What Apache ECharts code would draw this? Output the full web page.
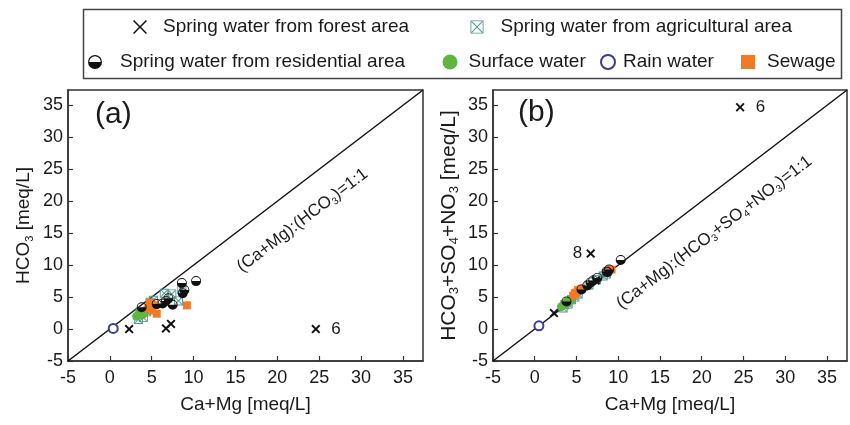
<!DOCTYPE html>
<html>
<head>
<meta charset="utf-8">
<script src="https://cdn.jsdelivr.net/npm/echarts@6/dist/echarts.min.js"></script>
<style>html,body{margin:0;padding:0;background:#fff}#c{width:850px;height:425px}</style>
</head>
<body>
<div id="c"></div>
<script>
// ---------- data ----------
const AX_MIN = -5, AX_MAX = 37.4, AX_STEP = 5;
const oneToOne = [[-5, -5], [37.4, 37.4]];

// Panel (a): x = Ca+Mg, y = HCO3
const forestA = [[2.3, 0.0], [6.7, 0.1], [7.3, 0.8], [24.6, 0.0]];
const forestLabelsA = ['', '', '', '6'];
const agriA = [[7.4, 5.5], [6.5, 5.6], [8.2, 4.4], [5.2, 4.5], [4.0, 1.8], [3.4, 1.5], [4.4, 2.7], [3.6, 2.6], [8.6, 6.2], [4.8, 4.2]];
const resA = [[8.6, 7.2], [10.3, 7.5], [8.9, 6.1], [8.7, 5.6], [7.0, 4.8], [6.3, 4.0], [7.5, 3.8], [6.7, 4.4], [5.6, 3.9], [3.8, 3.4]];
const surfA = [[3.6, 2.6], [3.8, 2.2], [3.2, 2.0], [4.4, 3.0], [4.0, 2.4]];
const rainA = [[0.4, 0.1]];
const sewA = [[9.2, 3.7], [5.2, 3.7], [5.0, 2.9], [5.6, 2.4], [4.8, 4.1], [4.6, 3.3], [4.9, 3.6]];

// Panel (b): x = Ca+Mg, y = HCO3+SO4+NO3
const forestB = [[2.3, 2.5], [6.7, 11.8], [7.3, 7.6], [24.6, 34.7]];
const forestLabelsB = ['', '8', '', '6'];
const agriB = [[7.4, 7.7], [6.5, 6.9], [8.2, 8.3], [5.2, 5.5], [4.0, 3.9], [3.4, 3.3], [4.4, 4.6], [3.6, 3.8], [8.6, 8.6], [4.8, 5.0]];
const resB = [[8.6, 9.0], [10.3, 10.8], [8.9, 9.3], [8.7, 8.9], [7.0, 7.6], [6.3, 6.8], [7.5, 8.0], [6.7, 7.3], [5.6, 6.2], [3.8, 4.3]];
const surfB = [[3.6, 3.9], [3.8, 4.2], [3.2, 3.5], [4.4, 4.7], [4.0, 4.1]];
const rainB = [[0.5, 0.5]];
const sewB = [[9.2, 9.3], [5.2, 6.1], [5.0, 5.7], [5.6, 6.3], [4.8, 5.6], [4.6, 5.2], [8.8, 9.0]];

// annotation anchors (data coordinates)
const noteA = [[23, 17]];
const noteB = [[21.5, 15.1]];

const NAMES = {
  forest: 'Spring water from forest area',
  agri: 'Spring water from agricultural area',
  res: 'Spring water from residential area',
  surf: 'Surface water',
  rain: 'Rain water',
  sew: 'Sewage'
};

// ---------- styling ----------
const FONT = '"Liberation Sans", Arial, Helvetica, sans-serif';
const INK = '#1a1a1a';
const SYM_X = 'path://M0,3 L3,0 L10,7 L17,0 L20,3 L13,10 L20,17 L17,20 L10,13 L3,20 L0,17 L7,10 Z';
const SYM_X_THIN = 'path://M0,1.5 L1.5,0 L10,8.5 L18.5,0 L20,1.5 L11.5,10 L20,18.5 L18.5,20 L10,11.5 L1.5,20 L0,18.5 L8.5,10 Z';
const SYM_AGRI = 'path://M0,0 L20,0 L20,20 L0,20 Z M2,2 L2,18 L18,18 L18,2 Z M2,3.4 L3.4,2 L10,8.6 L16.6,2 L18,3.4 L11.4,10 L18,16.6 L16.6,18 L10,11.4 L3.4,18 L2,16.6 L8.6,10 Z';
const SYM_AGRI_THIN = 'path://M0,0 L20,0 L20,20 L0,20 Z M1.3,1.3 L1.3,18.7 L18.7,18.7 L18.7,1.3 Z M1.3,2.3 L2.3,1.3 L10,9 L17.7,1.3 L18.7,2.3 L11,10 L18.7,17.7 L17.7,18.7 L10,11 L2.3,18.7 L1.3,17.7 L9,10 Z';
const SYM_HALF = 'path://M0,10 A10,10 0 1,1 20,10 A10,10 0 1,1 0,10 Z M1.8,10 A8.2,8.2 0 1,0 18.2,10 A8.2,8.2 0 1,0 1.8,10 Z M20,10 A10,10 0 0,1 0,10 Z';

const rich = {
  n: { fontSize: 19, color: INK, lineHeight: 22, fontFamily: FONT },
  s: { fontSize: 11, color: INK, lineHeight: 12, verticalAlign: 'bottom', fontFamily: FONT }
};
const richB = {
  n: { fontSize: 21, color: INK, lineHeight: 24, fontFamily: FONT },
  s: { fontSize: 13, color: INK, lineHeight: 13, verticalAlign: 'bottom', fontFamily: FONT }
};
const richNote = {
  n: { fontSize: 17, color: INK, lineHeight: 20, fontFamily: FONT },
  s: { fontSize: 10, color: INK, lineHeight: 11, verticalAlign: 'bottom', fontFamily: FONT }
};

function xAxisDef(gi) {
  return {
    gridIndex: gi, type: 'value', min: AX_MIN, max: AX_MAX, interval: AX_STEP,
    name: 'Ca+Mg [meq/L]', nameLocation: 'middle', nameGap: 34,
    nameTextStyle: { fontSize: 19, color: INK, fontFamily: FONT },
    axisLine: { show: true, onZero: false, lineStyle: { color: '#333', width: 1.5 } },
    axisTick: { show: true, inside: true, length: 5, lineStyle: { color: '#333', width: 1.2 } },
    axisLabel: { fontSize: 18, color: INK, margin: 8, showMaxLabel: false, showMinLabel: true, fontFamily: FONT },
    splitLine: { show: false }
  };
}
function yAxisDef(gi, name, r, gap) {
  return {
    gridIndex: gi, type: 'value', min: AX_MIN, max: AX_MAX, interval: AX_STEP,
    name: name, nameLocation: 'middle', nameGap: gap,
    nameTextStyle: { rich: r },
    axisLine: { show: true, onZero: false, lineStyle: { color: '#333', width: 1.5 } },
    axisTick: { show: true, inside: true, length: 5, lineStyle: { color: '#333', width: 1.2 } },
    axisLabel: { fontSize: 18, color: INK, margin: 5, showMaxLabel: false, showMinLabel: true, fontFamily: FONT },
    splitLine: { show: false }
  };
}

function scat(name, data, gi, symbol, size, itemStyle, z) {
  return {
    type: 'scatter', name: name, xAxisIndex: gi, yAxisIndex: gi,
    symbol: symbol, symbolSize: size, itemStyle: Object.assign({ opacity: 1 }, itemStyle), data: data, z: z || 3
  };
}
function forestSeries(data, labels, gi) {
  return {
    type: 'scatter', name: NAMES.forest, xAxisIndex: gi, yAxisIndex: gi,
    symbol: SYM_X, symbolSize: 9, itemStyle: { color: '#111', opacity: 1 }, z: 8,
    data: data.map((d, i) => {
      const lab = labels[i];
      if (!lab) return { value: d };
      return {
        value: d,
        label: {
          show: true, formatter: lab, fontSize: 17, color: INK, fontFamily: FONT,
          position: lab === '8' ? 'left' : 'right', distance: lab === '8' ? 4 : 11
        }
      };
    })
  };
}
function lineSeries(gi) {
  return {
    type: 'line', xAxisIndex: gi, yAxisIndex: gi, data: oneToOne, showSymbol: false,
    lineStyle: { color: '#111', width: 1.5 }, z: 1, silent: true
  };
}
function noteSeries(gi, data, text) {
  return {
    type: 'scatter', xAxisIndex: gi, yAxisIndex: gi, data: data, symbolSize: 0, silent: true, z: 2,
    itemStyle: { opacity: 1 },
    label: { show: true, position: 'inside', rotate: 37.4, formatter: text, rich: richNote }
  };
}

const styles = {
  agri: { color: '#4f9492' },
  res: { color: '#111' },
  surf: { color: '#5fb53f' },
  rain: { color: '#3d3f8e', borderColor: '#3d3f8e', borderWidth: 1.5 },
  sew: { color: '#f27a25' }
};

function panelSeries(gi, forest, forestLabels, agri, res, surf, rain, sew, note, noteText) {
  return [
    lineSeries(gi),
    noteSeries(gi, note, noteText),
    scat(NAMES.agri, agri, gi, SYM_AGRI, 9, styles.agri, 3),
    scat(NAMES.surf, surf, gi, 'circle', 9, styles.surf, 4),
    scat(NAMES.sew, sew, gi, 'rect', 8, styles.sew, 5),
    scat(NAMES.res, res, gi, SYM_HALF, 10, styles.res, 6),
    scat(NAMES.rain, rain, gi, 'emptyCircle', 9, styles.rain, 7),
    forestSeries(forest, forestLabels, gi)
  ];
}

function legendItem(name, iconCenter, top, padLeft, icon, size) {
  const s = size || 14;
  const item = { name: name };
  if (icon) item.icon = icon;
  return {
    data: [item], left: iconCenter - s / 2, top: top, padding: 0, itemWidth: s, itemHeight: s,
    selectedMode: false,
    textStyle: { fontSize: 19, color: INK, lineHeight: 22, fontFamily: FONT, padding: [0, 0, 0, padLeft] }
  };
}

const option = {
  animation: false,
  backgroundColor: '#fff',
  textStyle: { fontFamily: FONT },
  graphic: [{
    type: 'rect', left: 81, top: 7, silent: true,
    shape: { width: 758, height: 69 },
    style: { fill: 'none', stroke: '#444', lineWidth: 1.5 }
  }],
  title: [
    { text: '(a)', left: 95, top: 100, padding: 0, textStyle: { fontSize: 30, fontWeight: 'normal', color: INK, fontFamily: FONT } },
    { text: '(b)', left: 518, top: 98, padding: 0, textStyle: { fontSize: 30, fontWeight: 'normal', color: INK, fontFamily: FONT } }
  ],
  legend: [
    legendItem(NAMES.forest, 140, 16, 11, SYM_X_THIN, 14),
    legendItem(NAMES.agri, 477, 16, 12, SYM_AGRI_THIN, 13),
    legendItem(NAMES.res, 95, 51, 13, null, 14),
    legendItem(NAMES.surf, 450, 51, 6, null, 15),
    legendItem(NAMES.rain, 607, 51, 3, null, 14),
    legendItem(NAMES.sew, 748, 51, 7, null, 14)
  ],
  grid: [
    { left: 68, top: 90, width: 355, height: 271, show: true, borderColor: '#333', borderWidth: 1.5, outerBoundsMode: 'none' },
    { left: 493, top: 90, width: 354, height: 271, show: true, borderColor: '#333', borderWidth: 1.5, outerBoundsMode: 'none' }
  ],
  xAxis: [xAxisDef(0), xAxisDef(1)],
  yAxis: [
    yAxisDef(0, '{n|HCO}{s|3}{n| [meq/L]}', rich, 33),
    yAxisDef(1, '{n|HCO}{s|3}{n|+SO}{s|4}{n|+NO}{s|3}{n| [meq/L]}', richB, 32)
  ],
  series: [].concat(
    panelSeries(0, forestA, forestLabelsA, agriA, resA, surfA, rainA, sewA, noteA, '{n|(Ca+Mg):(HCO}{s|3}{n|)=1:1}'),
    panelSeries(1, forestB, forestLabelsB, agriB, resB, surfB, rainB, sewB, noteB, '{n|(Ca+Mg):(HCO}{s|3}{n|+SO}{s|4}{n|+NO}{s|3}{n|)=1:1}')
  )
};

const chart = echarts.init(document.getElementById('c'), null, { renderer: 'canvas' });
chart.setOption(option);
</script>
</body>
</html>
